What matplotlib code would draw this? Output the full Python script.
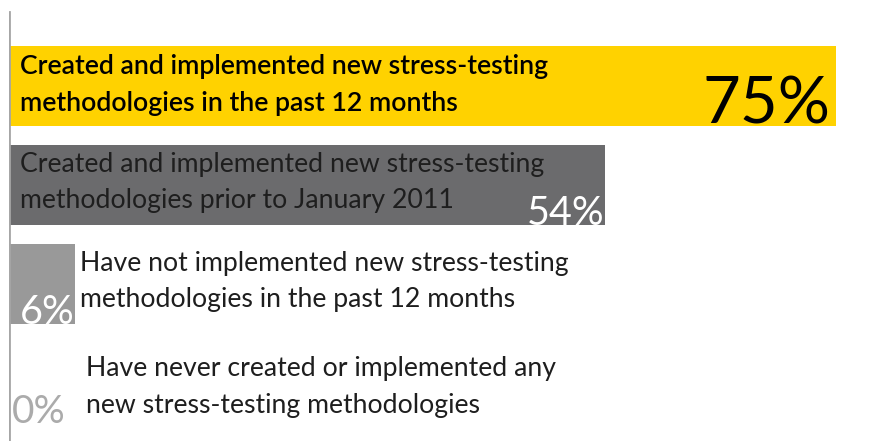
import matplotlib
matplotlib.use("Agg")
import matplotlib.pyplot as plt

labels = [
    "Created and implemented new stress-testing\nmethodologies in the past 12 months",
    "Created and implemented new stress-testing\nmethodologies prior to January 2011",
    "Have not implemented new stress-testing\nmethodologies in the past 12 months",
    "Have never created or implemented any\nnew stress-testing methodologies",
]
values = [75, 54, 6, 0]
bar_colors = ["#FFD200", "#6B6B6D", "#999999", "#999999"]
pct_colors = ["#000000", "#FFFFFF", "#FFFFFF", "#ABABAB"]

plt.rcParams["font.family"] = ["Lato", "DejaVu Sans"]

W, H = 869, 441
fig = plt.figure(figsize=(W / 100, H / 100), dpi=100)
# x: 0% sits at pixel 9, 1% is about 11.03 px
ax = fig.add_axes([9 / W, 0, 1 - 9 / W, 1])
px_per_pct = 11.03
ax.set_xlim(0, (W - 9) / px_per_pct)
# y: one unit = 99 px, first bar centred at 86 px from top
ax.set_ylim((H - 86) / 99, -86 / 99)
ax.axis("off")

ypos = list(range(len(values)))
bar_h = 80 / 99
ax.barh(ypos, values, height=bar_h, color=bar_colors, zorder=1)

ax.axvline(0, ymin=0, ymax=1 - 12 / H, color="#A6A6A6", lw=2, zorder=3)

# category labels
fs = 19.2
ls = 1.58
ax.text(1.0, -0.01, labels[0], fontsize=fs, fontweight="semibold", color="#000000",
        va="center", ha="left", linespacing=ls)
ax.text(1.0, 0.975, labels[1], fontsize=fs, color="#1E1E1E",
        va="center", ha="left", linespacing=ls)
ax.text(values[2] + 0.4, 1.975, labels[2], fontsize=fs, color="#1E1E1E",
        va="center", ha="left", linespacing=ls)
ax.text(7.0, 3.04, labels[3], fontsize=fs, color="#1E1E1E",
        va="center", ha="left", linespacing=ls)

# percentage labels
ax.text(values[0] - 0.5, 0.38, "75%", fontsize=47, color=pct_colors[0],
        ha="right", va="baseline")
for i in (1, 2):
    ax.text(values[i] - 0.05, i + bar_h / 2, f"{values[i]}%", fontsize=28.5,
            color=pct_colors[i], ha="right", va="baseline")
ax.text(0.25, 3.4, "0%", fontsize=28, color=pct_colors[3], ha="left", va="baseline")

fig.savefig("out.png", dpi=100)
